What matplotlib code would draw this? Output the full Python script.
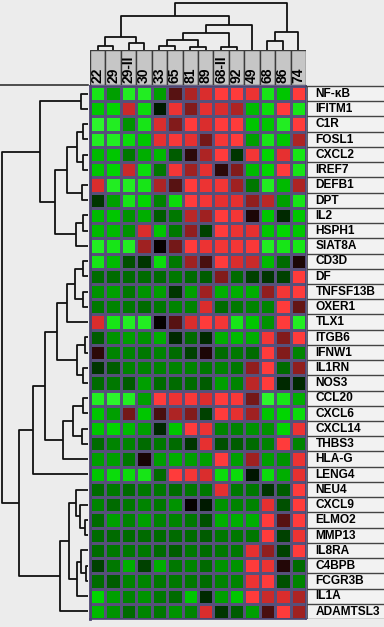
import matplotlib
matplotlib.use('Agg')
import matplotlib.pyplot as plt
import numpy as np
from matplotlib.colors import LinearSegmentedColormap
from matplotlib.patches import Rectangle

W, H = 384, 627

samples = ["22", "29", "29-II", "30", "33", "65", "81", "89", "68-II", "92", "49", "68", "86", "74"]

genes = ["NF-\u03baB", "IFITM1", "C1R", "FOSL1", "CXCL2", "IREF7", "DEFB1", "DPT", "IL2",
         "HSPH1", "SIAT8A", "CD3D", "DF", "TNFSF13B", "OXER1", "TLX1", "ITGB6", "IFNW1",
         "IL1RN", "NOS3", "CCL20", "CXCL6", "CXCL14", "THBS3", "HLA-G", "LENG4", "NEU4",
         "CXCL9", "ELMO2", "MMP13", "IL8RA", "C4BPB", "FCGR3B", "IL1A", "ADAMTSL3"]

# relative expression, -1 = strong green, +1 = strong red
expr = np.array([
    [-0.9, -0.6, -0.95, -0.95, -0.6, 0.3, 0.6, 0.75, 1.0, 1.0, 0.85, -0.9, -0.75, 1.0],
    [-0.75, -0.8, 0.7, -0.85, -0.1, 0.85, 0.45, 0.8, 0.75, 0.6, -0.7, -0.85, 1.0, -0.9],
    [-1.0, -0.95, -0.55, -0.9, 0.75, 0.45, 1.0, 0.75, 1.0, 1.0, -0.75, -0.75, -0.95, 1.0],
    [-0.95, -0.95, -0.85, -0.75, 0.8, 0.95, 0.8, 0.4, 0.9, 1.0, -0.6, -0.9, -0.75, 0.6],
    [-0.7, -0.75, -0.45, -0.65, -0.7, -0.35, 0.15, 0.6, 1.0, -0.2, 0.9, -0.8, 0.8, -0.9],
    [-0.75, -0.8, 0.7, -0.85, -0.45, 0.9, 0.55, 0.8, 0.15, 0.45, -0.7, -0.8, 1.0, -0.9],
    [0.75, -0.95, -0.95, -0.9, 0.6, 0.3, 1.0, 0.85, 0.9, 0.55, -0.45, -0.95, -0.7, 0.6],
    [-0.2, -0.6, -0.9, -0.8, -0.5, -0.85, 1.0, 0.9, 0.8, 0.8, 0.5, 0.65, -0.6, -0.9],
    [-0.7, -0.75, -0.55, -0.65, -0.35, -0.45, 0.65, 0.55, 1.0, 0.9, 0.1, -0.75, -0.15, -0.75],
    [-0.7, -0.7, -0.55, 0.75, -0.75, -0.45, 0.5, -0.25, 1.0, 0.85, 0.8, -0.75, -0.8, -0.75],
    [-0.95, -0.9, -0.95, 0.55, 0.02, 0.4, 1.0, 0.85, 0.9, 0.9, 0.95, -0.95, -0.9, -0.9],
    [-0.9, -0.7, -0.3, -0.2, -0.85, -0.45, 0.55, 0.25, 1.0, 0.75, 0.7, -0.7, -0.4, 0.1],
    [-0.4, -0.4, -0.4, -0.4, -0.4, -0.45, -0.4, -0.35, 0.45, -0.4, -0.25, -0.2, -0.25, 1.0],
    [-0.55, -0.6, -0.45, -0.55, -0.6, -0.2, -0.6, 0.55, -0.65, -0.65, -0.65, 0.5, 0.9, 1.0],
    [-0.45, -0.5, -0.45, -0.4, -0.45, -0.5, -0.5, 0.75, -0.4, -0.45, -0.5, -0.5, 1.0, 0.35],
    [0.75, -0.9, -0.95, -0.95, 0.02, 0.3, 0.75, 1.0, 0.9, -0.9, -0.75, -0.55, 1.0, -0.95],
    [-0.35, -0.55, -0.6, -0.55, -0.65, -0.15, -0.4, -0.15, -0.65, -0.7, -0.65, 0.9, 0.45, 1.0],
    [0.15, -0.5, -0.5, -0.45, -0.5, -0.4, -0.25, 0.1, -0.4, -0.45, -0.4, 1.0, 0.45, -0.5],
    [-0.2, -0.35, -0.5, -0.5, -0.5, -0.5, -0.5, -0.45, -0.5, -0.45, 0.5, 1.0, -0.4, 0.5],
    [-0.4, -0.45, -0.35, -0.6, -0.4, -0.4, -0.4, -0.35, -0.6, -0.5, 0.65, 1.0, -0.15, -0.15],
    [-0.95, -1.0, -0.95, -0.6, 1.0, 0.85, 0.95, 0.75, 1.0, 0.95, 0.4, -1.0, -0.9, -0.65],
    [-0.75, -0.6, 0.4, -0.75, 0.25, 0.6, 0.45, -0.25, 1.0, 0.8, 0.55, -0.75, -0.8, -0.85],
    [-0.75, -0.8, -0.7, -0.6, -0.15, -0.75, 1.0, 0.85, -0.5, -0.5, -0.55, -0.55, -0.8, 0.85],
    [-0.4, -0.5, -0.5, -0.4, -0.45, -0.4, -0.2, 0.8, -0.3, -0.35, -0.4, -0.5, 1.0, -0.5],
    [-0.6, -0.6, -0.45, 0.08, -0.6, -0.65, -0.6, -0.6, 1.0, -0.6, 0.55, -0.6, -0.55, 0.85],
    [-0.75, -0.85, -0.85, -0.9, -0.4, 1.0, 0.9, 0.75, -0.85, -0.85, -0.08, -0.85, -0.65, 0.8],
    [-0.4, -0.45, -0.4, -0.45, -0.45, -0.4, -0.45, -0.45, 0.8, -0.45, -0.45, -0.2, -0.35, 1.0],
    [-0.5, -0.4, -0.45, -0.5, -0.45, -0.55, 0.02, -0.1, -0.55, -0.5, -0.5, 0.8, -0.3, 1.0],
    [-0.4, -0.6, -0.5, -0.6, -0.5, -0.5, -0.45, -0.3, -0.65, -0.65, -0.65, 1.0, 0.3, 1.0],
    [-0.4, -0.4, -0.4, -0.4, -0.4, -0.4, -0.4, -0.35, -0.45, -0.45, -0.45, 1.0, -0.25, 0.85],
    [-0.4, -0.45, -0.45, -0.45, -0.4, -0.35, -0.45, -0.4, -0.45, -0.45, 0.8, 0.5, -0.25, 1.0],
    [-0.25, -0.45, -0.65, -0.25, -0.65, -0.45, -0.5, -0.4, -0.55, -0.55, 1.0, 0.85, 0.12, -0.4],
    [-0.4, -0.35, -0.5, -0.5, -0.45, -0.45, -0.45, -0.4, -0.5, -0.5, 0.85, 1.0, -0.3, -0.5],
    [-0.8, -0.6, -0.5, -0.55, -0.45, -0.4, -0.75, -0.15, -0.6, -0.75, 1.0, 0.7, 0.75, 0.6],
    [-0.7, -0.55, -0.4, -0.5, -0.45, -0.55, -0.5, 0.75, -0.2, -0.35, -0.6, 0.25, 1.0, 0.55],
])

# cluster merges: (a, b, height); ids < n are leaves, n+k is the k-th merge
col_merges = [
    (0, 1, 4.0), (2, 3, 6.7), (14, 15, 13.3), (4, 5, 4.3), (6, 7, 3.3),
    (17, 18, 10.0), (8, 9, 3.3), (19, 20, 16.7), (21, 10, 25.0), (16, 22, 34.0),
    (11, 12, 9.3), (24, 13, 18.3), (23, 25, 46.7),
]

row_merges = [
    (0, 1, 7.0), (2, 3, 4.7), (4, 5, 4.7), (36, 37, 11.3), (6, 7, 6.3),
    (38, 39, 21.3), (8, 9, 5.3), (41, 10, 12.0), (40, 42, 33.0), (35, 43, 48.0),
    (11, 12, 5.3), (13, 14, 4.7), (45, 46, 13.0), (47, 15, 21.3), (16, 17, 3.0),
    (18, 19, 4.7), (49, 50, 10.7), (48, 51, 30.7), (20, 21, 5.3), (22, 23, 6.3),
    (53, 54, 15.3), (55, 24, 25.3), (52, 56, 43.0), (57, 25, 54.7), (28, 29, 3.0),
    (27, 59, 8.0), (26, 60, 12.3), (31, 32, 2.3), (30, 62, 7.0), (63, 33, 11.3),
    (61, 64, 19.0), (65, 34, 28.0), (58, 66, 68.7), (44, 67, 86.3),
]


def px_axes(fig, x0, y0, x1, y1):
    """Axes placed by pixel box (top-left origin)."""
    return fig.add_axes([x0 / W, 1 - y1 / H, (x1 - x0) / W, (y1 - y0) / H])


def draw_dendro(ax, merges, n, vertical):
    pos = {i: i + 0.5 for i in range(n)}
    hgt = {i: 0.0 for i in range(n)}
    for k, (a, b, h) in enumerate(merges):
        pa, pb = pos[a], pos[b]
        xs = [pa, pa, pb, pb]
        ys = [hgt[a], h, h, hgt[b]]
        if vertical:
            ax.plot(xs, ys, color='#111111', lw=1.3, solid_capstyle='butt', clip_on=False)
        else:
            ax.plot(ys, xs, color='#111111', lw=1.3, solid_capstyle='butt', clip_on=False)
        pos[n + k] = (pa + pb) / 2
        hgt[n + k] = h


fig = plt.figure(figsize=(W / 100, H / 100), dpi=100)
fig.patch.set_facecolor('#ececec')

n_rows, n_cols = expr.shape
hm_x0, hm_x1, hm_y0, hm_y1 = 90, 306, 86, 619

# heatmap
cmap = LinearSegmentedColormap.from_list(
    'gr', [(0.0, '#2cf52c'), (0.1, '#00d400'), (0.5, '#000000'),
           (0.9, '#e63030'), (1.0, '#ff3b3b')])
ax = px_axes(fig, hm_x0, hm_y0, hm_x1, hm_y1)
ax.pcolormesh(np.arange(n_cols + 1), np.arange(n_rows + 1), expr, cmap=cmap,
              vmin=-1, vmax=1, edgecolors='#57507a', linewidth=0.9)
ax.set_xlim(0, n_cols)
ax.set_ylim(n_rows, 0)
ax.set_xticks([])
ax.set_yticks([])
for s in ax.spines.values():
    s.set_color('#4b4470')
    s.set_linewidth(1.2)
ax.spines['left'].set_linewidth(2)

# column header boxes
axh = px_axes(fig, hm_x0, 50, hm_x1, 85)
axh.set_xlim(0, n_cols)
axh.set_ylim(0, 1)
axh.axis('off')
for i, name in enumerate(samples):
    axh.add_patch(Rectangle((i, 0), 1, 1, facecolor='#c6c6c6', edgecolor='#3c3c3c', lw=1))
    axh.text(i + 0.5, 0.07, name, rotation=90, ha='center', va='bottom',
             fontsize=10, fontweight='bold', family='Liberation Sans')

# column dendrogram
axc = px_axes(fig, hm_x0, 0, hm_x1, 50)
axc.set_xlim(0, n_cols)
axc.set_ylim(0, 50)
axc.axis('off')
draw_dendro(axc, col_merges, n_cols, vertical=True)

# row dendrogram
axr = px_axes(fig, 0, hm_y0, 88, hm_y1)
axr.set_xlim(88, 0)
axr.set_ylim(n_rows, 0)
axr.axis('off')
draw_dendro(axr, row_merges, n_rows, vertical=False)

# gene labels
axl = px_axes(fig, 307, hm_y0, W, hm_y1)
axl.set_xlim(0, 1)
axl.set_ylim(n_rows, 0)
axl.set_facecolor('#f2f2f2')
axl.set_xticks([])
axl.set_yticks([])
for s in axl.spines.values():
    s.set_visible(False)
for j, g in enumerate(genes):
    axl.axhline(j + 1, color='#444444', lw=1)
    axl.text(0.11, j + 0.52, g, ha='left', va='center', fontsize=8.6,
             fontweight='bold', family='Liberation Sans')
axl.axvline(0, color='#444444', lw=1.2)

# top border lines
fig.add_artist(plt.Line2D([0, 88 / W], [1 - 85 / H] * 2, color='#333333', lw=1.2))
fig.add_artist(plt.Line2D([306 / W, 1], [1 - 85.5 / H] * 2, color='#444444', lw=1))

plt.savefig('out.png', dpi=100, facecolor=fig.get_facecolor())
plt.close()
